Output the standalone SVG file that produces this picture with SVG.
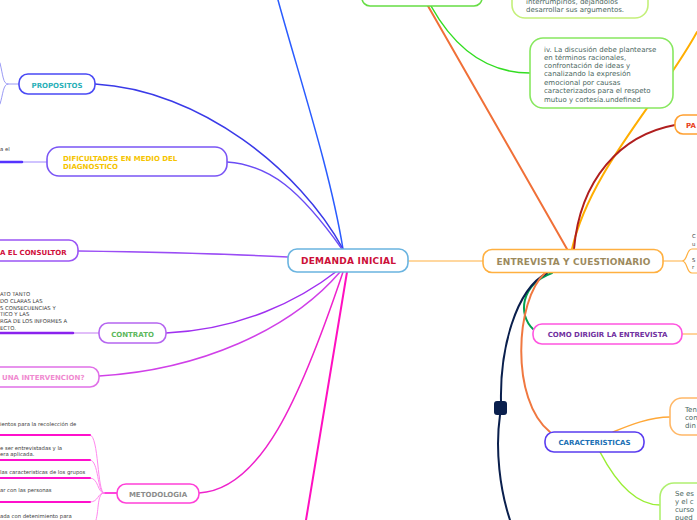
<svg xmlns="http://www.w3.org/2000/svg" width="697" height="520" viewBox="0 0 697 520">
<style>
.bg{fill:#fff}
.n{fill:#fff;stroke-width:1.6}
.lb{font-family:"DejaVu Sans",Verdana,sans-serif;font-weight:bold;font-size:7px}
.big{font-family:"DejaVu Sans",Verdana,sans-serif;font-weight:bold;font-size:9px}
.tx{font-family:"DejaVu Sans",Verdana,sans-serif;font-size:7px;fill:#4a6660}
.sm{font-family:"DejaVu Sans",Verdana,sans-serif;font-size:5.3px;fill:#3a3a3a}
.c{fill:none;stroke-linecap:round}
</style>
<rect class="bg" x="0" y="0" width="697" height="520"/>
<g id="connectors">
  <path class="c" d="M278,0 C300,80 330,170 343,249" stroke="#2a5cff" stroke-width="1.5"/>
  <path class="c" d="M95,84 C200,90 300,170 343,249" stroke="#3a3ae8" stroke-width="1.5"/>
  <path class="c" d="M227,162 C270,165 300,190 342,249" stroke="#6a4cf5" stroke-width="1.5"/>
  <path class="c" d="M78,251 C150,252 230,254 288,257" stroke="#9a4cf5" stroke-width="1.5"/>
  <path class="c" d="M166,333 C240,330 300,300 337,271" stroke="#a030f0" stroke-width="1.5"/>
  <path class="c" d="M99,376 C200,370 290,330 340,272" stroke="#d040e8" stroke-width="1.5"/>
  <path class="c" d="M199,493 C260,490 300,400 343,272" stroke="#ee22cc" stroke-width="1.5"/>
  <path class="c" d="M347,272 L306,520" stroke="#ff10c0" stroke-width="2"/>
  <path class="c" d="M408,261 L483,261" stroke="#ffb040" stroke-width="1.2"/>
  <path class="c" d="M428,6 L567,249" stroke="#f07038" stroke-width="2"/>
  <path class="c" d="M431,6 C450,40 480,73 530,73" stroke="#33dd22" stroke-width="1.5"/>
  <path class="c" d="M697,32 C660,100 590,170 572,249" stroke="#ffae00" stroke-width="2"/>
  <path class="c" d="M675,125 C620,135 580,180 574,249" stroke="#b01e1e" stroke-width="2"/>
  <path class="c" d="M552,273 C520,285 518,315 533,329" stroke="#00a050" stroke-width="2"/>
  <path class="c" d="M547,273 C515,290 500,350 501,401" stroke="#0a1f4d" stroke-width="2"/>
  <path class="c" d="M500,415 C495,450 500,490 510,520" stroke="#0a1f4d" stroke-width="2"/>
  <path class="c" d="M545,273 C515,300 510,400 550,432" stroke="#f07840" stroke-width="2"/>
  <path class="c" d="M613,432 C630,425 650,417 670,417" stroke="#ffa838" stroke-width="1.5"/>
  <path class="c" d="M600,452 C620,490 640,505 660,505" stroke="#99ee33" stroke-width="1.5"/>
  <path class="c" d="M663,261 L682,261 C688,261 686,249 692,249 L697,249 M682,261 C688,261 686,273 692,273 L697,273" stroke="#ffb040" stroke-width="1.2"/>
  <path class="c" d="M682,334 L697,334" stroke="#ffa838" stroke-width="1.2"/>
  <path class="c" d="M19,84 L8,84 C3,84 3,75 0,63 M8,84 C3,84 3,95 0,104" stroke="#9a9af5" stroke-width="1"/>
  <path class="c" d="M47,162 L22,162" stroke="#c0b0ff" stroke-width="1.5"/>
  <path class="c" d="M0,162 L22,162" stroke="#5533ff" stroke-width="2.5"/>
  <path class="c" d="M99,333 L73,333" stroke="#d8a8f8" stroke-width="1.5"/>
  <path class="c" d="M0,333 L73,333" stroke="#8a22ee" stroke-width="2.5"/>
  <path class="c" d="M117,493 L104,493" stroke="#ff44dd" stroke-width="2"/>
  <path class="c" d="M104,493 C97,493 99,435 90,435 M104,493 C97,493 99,460 90,460 M104,493 C97,493 99,478 90,478 M104,493 C97,493 99,502 90,502 M104,493 C97,493 99,510 96,520" stroke="#ff88ee" stroke-width="1"/>
  <path class="c" d="M0,435 L90,435 M0,460 L90,460 M0,478 L90,478 M0,502 L90,502" stroke="#ff10cc" stroke-width="2"/>
</g>
<g id="demanda-inicial">
  <rect class="n" x="288" y="249" width="120" height="23" rx="9" stroke="#6ab4e0"/>
  <text class="big" x="348.5" y="264.3" text-anchor="middle" fill="#cc1038" textLength="95">DEMANDA INICIAL</text>
</g>
<g id="entrevista">
  <rect class="n" x="483" y="249.5" width="180" height="23" rx="9" stroke="#ffb040"/>
  <text class="big" x="573.5" y="264.5" text-anchor="middle" fill="#9c8a5e" textLength="154">ENTREVISTA Y CUESTIONARIO</text>
</g>
<g id="propositos">
  <rect class="n" x="19" y="74" width="76" height="20" rx="9" stroke="#4a4af5"/>
  <text class="lb" x="57" y="87.5" text-anchor="middle" fill="#2ab0b8">PROPOSITOS</text>
</g>
<g id="dificultades">
  <rect class="n" x="47" y="147" width="180" height="29" rx="12" stroke="#7a55f5"/>
  <text class="lb" x="63" y="160.5" fill="#f5c400">DIFICULTADES EN MEDIO DEL</text>
  <text class="lb" x="63" y="168.5" fill="#f5c400">DIAGNOSTICO</text>
  <text class="sm" x="0" y="151">a el</text>
</g>
<g id="consultor">
  <rect class="n" x="-20" y="240" width="98" height="21" rx="9" stroke="#9a55f5"/>
  <text class="lb" x="0" y="254.5" fill="#d0103c">A EL CONSULTOR</text>
</g>
<g id="contrato">
  <rect class="n" x="99" y="323" width="67" height="20" rx="9" stroke="#b566f0"/>
  <text class="lb" x="132.5" y="336.5" text-anchor="middle" fill="#5cb85c">CONTRATO</text>
  <text class="sm" x="0" y="296">ATO TANTO</text>
  <text class="sm" x="0" y="302.8">DO CLARAS LAS</text>
  <text class="sm" x="0" y="309.6">S CONSECUENCIAS Y</text>
  <text class="sm" x="0" y="316.4">TICO Y LAS</text>
  <text class="sm" x="0" y="323.2">RGA DE LOS INFORMES A</text>
  <text class="sm" x="0" y="330">ECTO.</text>
</g>
<g id="intervencion">
  <rect class="n" x="-20" y="367" width="119" height="20" rx="9" stroke="#e070e8"/>
  <text class="lb" x="2" y="380" fill="#f08ad0">UNA INTERVENCION?</text>
</g>
<g id="metodologia">
  <rect class="n" x="117" y="484" width="82" height="19" rx="9" stroke="#ff40d8"/>
  <text class="lb" x="158" y="496.5" text-anchor="middle" fill="#8c8c8c">METODOLOGIA</text>
  <text class="sm" x="0" y="425.5">ientos para la recolección de</text>
  <text class="sm" x="0" y="450">e ser entrevistadas  y la</text>
  <text class="sm" x="0" y="456">era aplicada.</text>
  <text class="sm" x="0" y="474">las caracteristicas de los grupos</text>
  <text class="sm" x="0" y="491.5">ar con las personas</text>
  <text class="sm" x="0" y="518">ada con detenimiento para</text>
</g>
<g id="top-box">
  <rect class="n" x="362" y="-30" width="120" height="36" rx="8" stroke="#66dd44"/>
</g>
<g id="interrumpir">
  <rect class="n" x="512" y="-30" width="136" height="48" rx="13" stroke="#c4f07a"/>
  <text class="tx" x="526" y="3.5" font-size="7.3">interrumpirlos, dejándolos</text>
  <text class="tx" x="526" y="12" font-size="7.3">desarrollar sus argumentos.</text>
</g>
<g id="discusion">
  <rect class="n" x="530" y="38" width="143" height="70" rx="13" stroke="#88e860"/>
  <text class="tx" x="544" y="51.5">iv. La discusión debe plantearse</text>
  <text class="tx" x="544" y="59.8">en términos racionales,</text>
  <text class="tx" x="544" y="68.1">confrontación de ideas y</text>
  <text class="tx" x="544" y="76.4">canalizando la expresión</text>
  <text class="tx" x="544" y="84.7">emocional por causas</text>
  <text class="tx" x="544" y="93">caracterizados para el respeto</text>
  <text class="tx" x="544" y="101.5">mutuo y cortesía.undefined</text>
</g>
<g id="pa">
  <rect class="n" x="675" y="115" width="40" height="19" rx="8" stroke="#ffa030"/>
  <text class="lb" x="686" y="127.5" fill="#e84020">PA</text>
</g>
<g id="entrevista-notes">
  <text class="sm" x="692" y="238">C</text>
  <text class="sm" x="692" y="245.5">u</text>
  <text class="sm" x="692" y="261.5">S</text>
  <text class="sm" x="692" y="269">r</text>
</g>
<g id="como-dirigir">
  <rect class="n" x="533" y="324" width="149" height="20" rx="9" stroke="#ff55e0"/>
  <text class="lb" x="607.5" y="337" text-anchor="middle" fill="#7030a0">COMO DIRIGIR LA ENTREVISTA</text>
</g>
<g id="navy-node">
  <rect x="494" y="401" width="13" height="14" rx="3" fill="#0a1f4d"/>
</g>
<g id="caracteristicas">
  <rect class="n" x="545" y="432" width="99" height="20" rx="9" stroke="#5a3cf0"/>
  <text class="lb" x="594.5" y="444.5" text-anchor="middle" fill="#1a70b5">CARACTERISTICAS</text>
</g>
<g id="ten-box">
  <rect class="n" x="670" y="398" width="60" height="37" rx="12" stroke="#ffb868"/>
  <text class="tx" x="685" y="411.5">Ten</text>
  <text class="tx" x="685" y="419.8">con</text>
  <text class="tx" x="685" y="428.1">din</text>
</g>
<g id="se-box">
  <rect class="n" x="660" y="483" width="60" height="60" rx="14" stroke="#b0f070"/>
  <text class="tx" x="675" y="495.5">Se es</text>
  <text class="tx" x="675" y="503.8">y el c</text>
  <text class="tx" x="675" y="512.1">curso</text>
  <text class="tx" x="675" y="520.4">pued</text>
</g>
</svg>
